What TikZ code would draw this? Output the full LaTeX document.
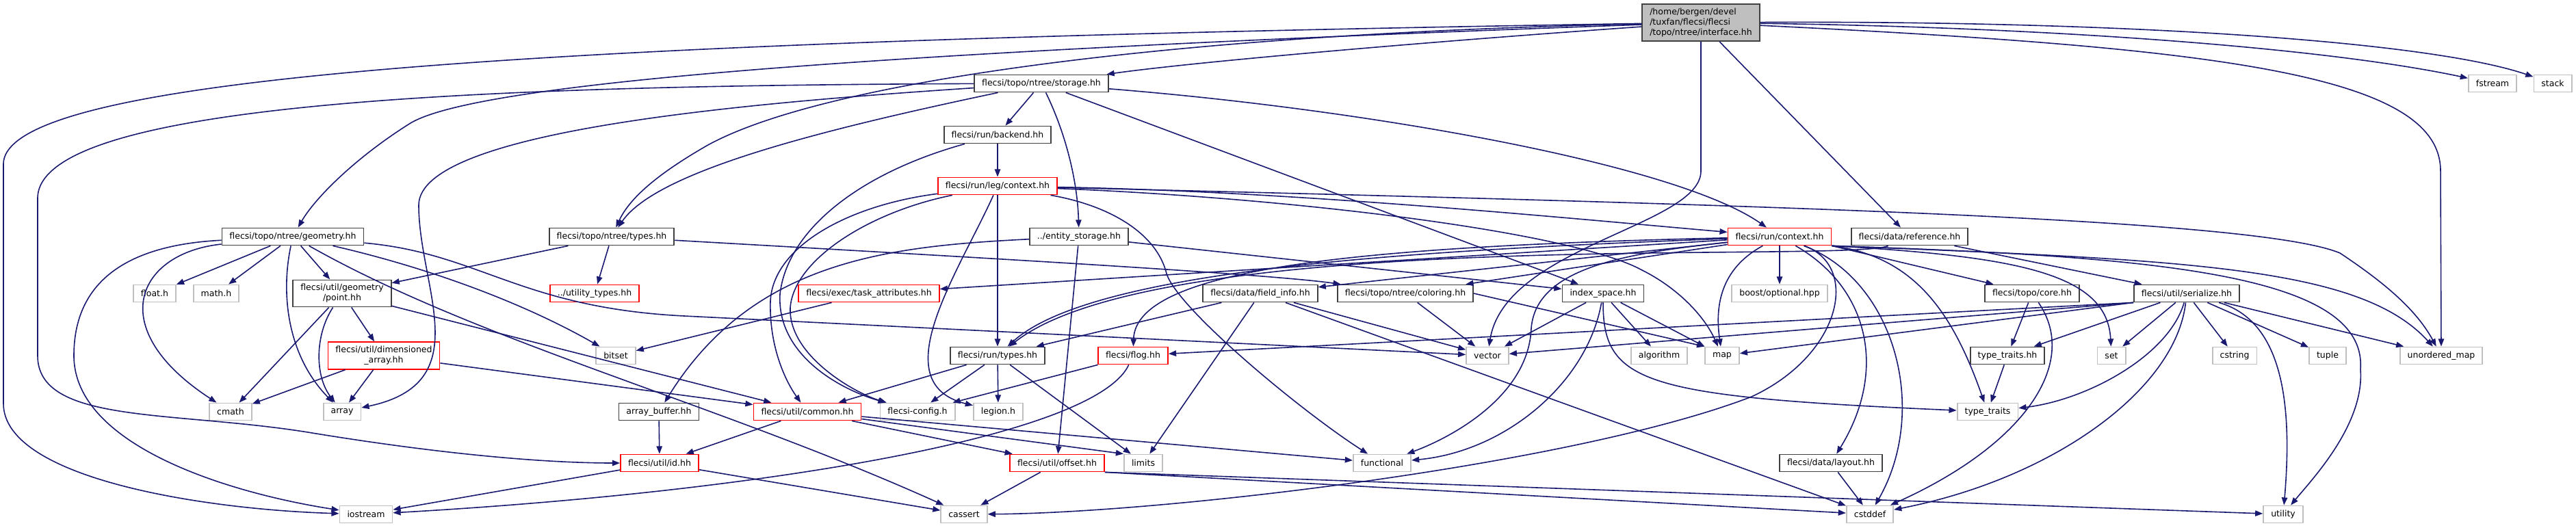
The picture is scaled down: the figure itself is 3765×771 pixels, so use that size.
\documentclass[tikz,border=0pt]{standalone}
\usepackage{fontspec}
\setmainfont{DejaVu Sans}
\usetikzlibrary{arrows.meta}
\definecolor{edgeblue}{HTML}{191970}
\definecolor{boxgray}{HTML}{BFBFBF}
\definecolor{truncred}{HTML}{FF0000}
\tikzset{
  filebox/.style={draw=black!75,line width=0.45mm,fill=white,inner xsep=2.75mm,inner ysep=1.5mm,minimum height=6.25mm,font=\fontsize{8.9}{10.7}\selectfont,align=center},
  sysbox/.style={filebox,draw=boxgray},
  redbox/.style={filebox,draw=truncred},
  rootbox/.style={filebox,fill=boxgray,align=left},
  incl/.style={draw=edgeblue,line width=0.4mm,->,>={Triangle[length=2.8mm,width=2.1mm]}}
}
\begin{document}
\begin{tikzpicture}[x=0.25mm,y=-0.25mm]
\useasboundingbox (0,0) rectangle (3765,771);
\node[rootbox] (root) at (2486,33) {/home/bergen/devel\\/tuxfan/flecsi/flecsi\\/topo/ntree/interface.hh};
\node[filebox] (storage) at (1522,122) {flecsi/topo/ntree/storage.hh};
\node[sysbox] (fstream) at (3643,122) {fstream};
\node[sysbox] (stack) at (3731,122) {stack};
\node[filebox] (backend) at (1458,197) {flecsi/run/backend.hh};
\node[redbox] (legctx) at (1458,272) {flecsi/run/leg/context.hh};
\node[filebox] (geom) at (428,346) {flecsi/topo/ntree/geometry.hh};
\node[filebox] (ntypes) at (894,346) {flecsi/topo/ntree/types.hh};
\node[filebox] (entstor) at (1577,346) {../entity\_storage.hh};
\node[redbox] (runctx) at (2601,346) {flecsi/run/context.hh};
\node[filebox] (ref) at (2791,346) {flecsi/data/reference.hh};
\node[sysbox] (floath) at (226,429) {float.h};
\node[sysbox] (mathh) at (316,429) {math.h};
\node[filebox] (point) at (500,429) {flecsi/util/geometry\\/point.hh};
\node[redbox] (utiltypes) at (869,429) {../utility\_types.hh};
\node[redbox] (taskattr) at (1270,429) {flecsi/exec/task\_attributes.hh};
\node[filebox] (fieldinfo) at (1842,429) {flecsi/data/field\_info.hh};
\node[filebox] (coloring) at (2054,429) {flecsi/topo/ntree/coloring.hh};
\node[filebox] (idxspace) at (2343,429) {index\_space.hh};
\node[sysbox] (boostopt) at (2601,429) {boost/optional.hpp};
\node[filebox] (core) at (2970,429) {flecsi/topo/core.hh};
\node[filebox] (serialize) at (3196,429) {flecsi/util/serialize.hh};
\node[redbox] (dimarr) at (561,520) {flecsi/util/dimensioned\\\_array.hh};
\node[sysbox] (bitset) at (900,520) {bitset};
\node[filebox] (runtypes) at (1458,520) {flecsi/run/types.hh};
\node[redbox] (flog) at (1656,520) {flecsi/flog.hh};
\node[sysbox] (vector) at (2174,520) {vector};
\node[sysbox] (algorithm) at (2425,520) {algorithm};
\node[sysbox] (map) at (2517,520) {map};
\node[filebox] (typetraitshh) at (2934,520) {type\_traits.hh};
\node[sysbox] (set) at (3086,520) {set};
\node[sysbox] (cstring) at (3266,520) {cstring};
\node[sysbox] (tuple) at (3402,520) {tuple};
\node[sysbox] (umap) at (3568,520) {unordered\_map};
\node[sysbox] (cmath) at (337,602) {cmath};
\node[sysbox] (array) at (500,602) {array};
\node[filebox] (arrbuf) at (963,602) {array\_buffer.hh};
\node[redbox] (common) at (1180,602) {flecsi/util/common.hh};
\node[sysbox] (config) at (1341,602) {flecsi-config.h};
\node[sysbox] (legion) at (1459,602) {legion.h};
\node[sysbox] (typetraits) at (2905,602) {type\_traits};
\node[redbox] (idhh) at (964,677) {flecsi/util/id.hh};
\node[redbox] (offset) at (1545,677) {flecsi/util/offset.hh};
\node[sysbox] (limits) at (1671,677) {limits};
\node[sysbox] (functional) at (2020,677) {functional};
\node[filebox] (layout) at (2676,677) {flecsi/data/layout.hh};
\node[sysbox] (iostream) at (535,752) {iostream};
\node[sysbox] (cassert) at (1409,752) {cassert};
\node[sysbox] (cstddef) at (2733,752) {cstddef};
\node[sysbox] (utility) at (3337,752) {utility};
\draw[incl] (root) .. controls (800,60) and (5,110) .. (5,240) -- (5,590) .. controls (5,700) and (300,745) .. (iostream);
\draw[incl] (root) .. controls (1300,75) and (700,120) .. (600,180) .. controls (520,230) and (460,290) .. (geom);
\draw[incl] (root) .. controls (1700,50) and (1200,120) .. (1033,213) .. controls (960,255) and (920,290) .. (ntypes);
\draw[incl] (root) .. controls (2100,60) and (1750,90) .. (storage);
\draw[incl] (root) .. controls (3000,40) and (3400,70) .. (fstream);
\draw[incl] (root) .. controls (3100,30) and (3550,60) .. (stack);
\draw[incl] (root) .. controls (3250,70) and (3567,110) .. (3567,250) -- (umap);
\draw[incl] (root.south) -- (2486,250) .. controls (2486,330) and (2200,360) .. (vector);
\draw[incl] (root) -- (ref);
\draw[incl] (storage) -- (backend);
\draw[incl] (storage) .. controls (1560,200) and (1575,270) .. (entstor);
\draw[incl] (storage) .. controls (1200,190) and (960,250) .. (ntypes);
\draw[incl] (storage) .. controls (700,125) and (55,150) .. (55,290) -- (55,520) .. controls (55,620) and (250,600) .. (450,632) .. controls (650,665) and (800,677) .. (idhh);
\draw[incl] (storage) .. controls (1100,150) and (612,190) .. (612,300) .. controls (612,420) and (700,560) .. (array);
\draw[incl] (storage) -- (idxspace);
\draw[incl] (storage) .. controls (2000,160) and (2450,240) .. (runctx);
\draw[incl] (backend) -- (legctx);
\draw[incl] (backend) .. controls (1250,255) and (1150,340) .. (1140,430) .. controls (1135,520) and (1230,570) .. (config);
\draw[incl] (legctx) -- (runtypes);
\draw[incl] (legctx) .. controls (1240,300) and (1130,360) .. (1126,440) .. controls (1124,510) and (1150,560) .. (common);
\draw[incl] (legctx) .. controls (1270,310) and (1160,380) .. (1155,450) .. controls (1152,520) and (1250,575) .. (config);
\draw[incl] (legctx) .. controls (1400,400) and (1290,560) .. (legion);
\draw[incl] (legctx) .. controls (1620,300) and (1690,340) .. (1705,400) .. controls (1720,450) and (1900,600) .. (functional);
\draw[incl] (legctx) .. controls (1900,280) and (2300,320) .. (runctx);
\draw[incl] (legctx) .. controls (1900,290) and (2300,340) .. (2400,395) .. controls (2450,420) and (2490,460) .. (map);
\draw[incl] (legctx) .. controls (2600,300) and (3300,320) .. (3420,370) .. controls (3480,410) and (3530,450) .. (umap);
\draw[incl] (entstor) .. controls (1300,360) and (1100,380) .. (arrbuf);
\draw[incl] (entstor) -- (offset);
\draw[incl] (entstor) -- (idxspace);
\draw[incl] (geom) -- (floath);
\draw[incl] (geom) -- (mathh);
\draw[incl] (geom) -- (point);
\draw[incl] (geom) .. controls (200,370) and (150,480) .. (cmath);
\draw[incl] (geom) .. controls (150,360) and (108,440) .. (108,520) .. controls (108,650) and (330,720) .. (iostream);
\draw[incl] (geom) .. controls (410,430) and (420,520) .. (array);
\draw[incl] (geom) .. controls (620,390) and (760,440) .. (bitset);
\draw[incl] (geom) .. controls (700,370) and (760,450) .. (1000,462) -- (vector);
\draw[incl] (geom) .. controls (700,500) and (1050,590) .. (cassert);
\draw[incl] (point) -- (dimarr);
\draw[incl] (point) -- (cmath);
\draw[incl] (point) .. controls (460,490) and (460,550) .. (array);
\draw[incl] (point) -- (common);
\draw[incl] (dimarr) -- (cmath);
\draw[incl] (dimarr) -- (array);
\draw[incl] (dimarr) -- (common);
\draw[incl] (ntypes) -- (utiltypes);
\draw[incl] (ntypes) -- (point);
\draw[incl] (ntypes) .. controls (1400,375) and (1850,400) .. (coloring);
\draw[incl] (taskattr) -- (bitset);
\draw[incl] (fieldinfo) -- (runtypes);
\draw[incl] (fieldinfo) -- (limits);
\draw[incl] (fieldinfo) -- (cstddef);
\draw[incl] (fieldinfo) -- (vector);
\draw[incl] (coloring) -- (vector);
\draw[incl] (coloring.east) -- (map.north west);
\draw[incl] (idxspace) -- (vector);
\draw[incl] (idxspace) -- (algorithm);
\draw[incl] (idxspace) -- (map);
\draw[incl] (idxspace) .. controls (2343,560) and (2400,580) .. (typetraits);
\draw[incl] (idxspace) .. controls (2320,560) and (2200,660) .. (functional);
\draw[incl] (runctx) -- (taskattr);
\draw[incl] (runctx) -- (fieldinfo);
\draw[incl] (runctx) -- (coloring);
\draw[incl] (runctx) .. controls (2000,360) and (1660,390) .. (flog);
\draw[incl] (runctx) .. controls (2100,365) and (1600,390) .. (runtypes);
\draw[incl] (runctx) -- (boostopt);
\draw[incl] (runctx) .. controls (2520,390) and (2505,440) .. (map);
\draw[incl] (runctx) .. controls (2380,370) and (2245,390) .. (2238,480) .. controls (2234,580) and (2120,640) .. (functional);
\draw[incl] (runctx) .. controls (2720,390) and (2690,520) .. (2560,580) .. controls (2300,680) and (1700,750) .. (cassert);
\draw[incl] (runctx) .. controls (2730,420) and (2760,540) .. (layout);
\draw[incl] (runctx) .. controls (2770,410) and (2820,600) .. (cstddef);
\draw[incl] (runctx.south east) -- (core);
\draw[incl] (runctx.south east) .. controls (2800,375) and (2855,460) .. (typetraits);
\draw[incl] (runctx.south east) .. controls (2950,375) and (3080,400) .. (set);
\draw[incl] (runctx.south east) .. controls (3150,375) and (3460,400) .. (3450,540) .. controls (3456,620) and (3380,700) .. (utility);
\draw[incl] (runctx.south east) .. controls (3200,380) and (3450,390) .. (umap);
\draw[incl] (ref) .. controls (2700,385) and (1700,330) .. (runtypes);
\draw[incl] (ref) -- (serialize);
\draw[incl] (serialize.south west) -- (flog);
\draw[incl] (serialize.south west) -- (vector);
\draw[incl] (serialize.south west) -- (map);
\draw[incl] (serialize) -- (typetraitshh);
\draw[incl] (serialize) -- (set);
\draw[incl] (serialize) .. controls (3170,520) and (3050,585) .. (typetraits);
\draw[incl] (serialize) .. controls (3180,570) and (3000,700) .. (cstddef);
\draw[incl] (serialize) -- (cstring);
\draw[incl] (serialize) -- (tuple);
\draw[incl] (serialize) .. controls (3340,470) and (3350,600) .. (utility);
\draw[incl] (serialize) -- (umap);
\draw[incl] (core) -- (typetraitshh);
\draw[incl] (core) .. controls (3040,530) and (2960,650) .. (cstddef);
\draw[incl] (typetraitshh) -- (typetraits);
\draw[incl] (layout) -- (cstddef);
\draw[incl] (runtypes) -- (common);
\draw[incl] (runtypes) -- (config);
\draw[incl] (runtypes) -- (legion);
\draw[incl] (runtypes) -- (limits);
\draw[incl] (flog) -- (config);
\draw[incl] (flog) .. controls (1600,640) and (1100,720) .. (iostream);
\draw[incl] (common) -- (idhh);
\draw[incl] (common) -- (offset);
\draw[incl] (common) -- (limits.north west);
\draw[incl] (common) -- (functional);
\draw[incl] (offset) -- (cassert);
\draw[incl] (offset.south east) -- (cstddef);
\draw[incl] (offset.south east) -- (utility);
\draw[incl] (idhh) -- (iostream);
\draw[incl] (idhh) -- (cassert);
\draw[incl] (arrbuf) -- (idhh);
\end{tikzpicture}
\end{document}
